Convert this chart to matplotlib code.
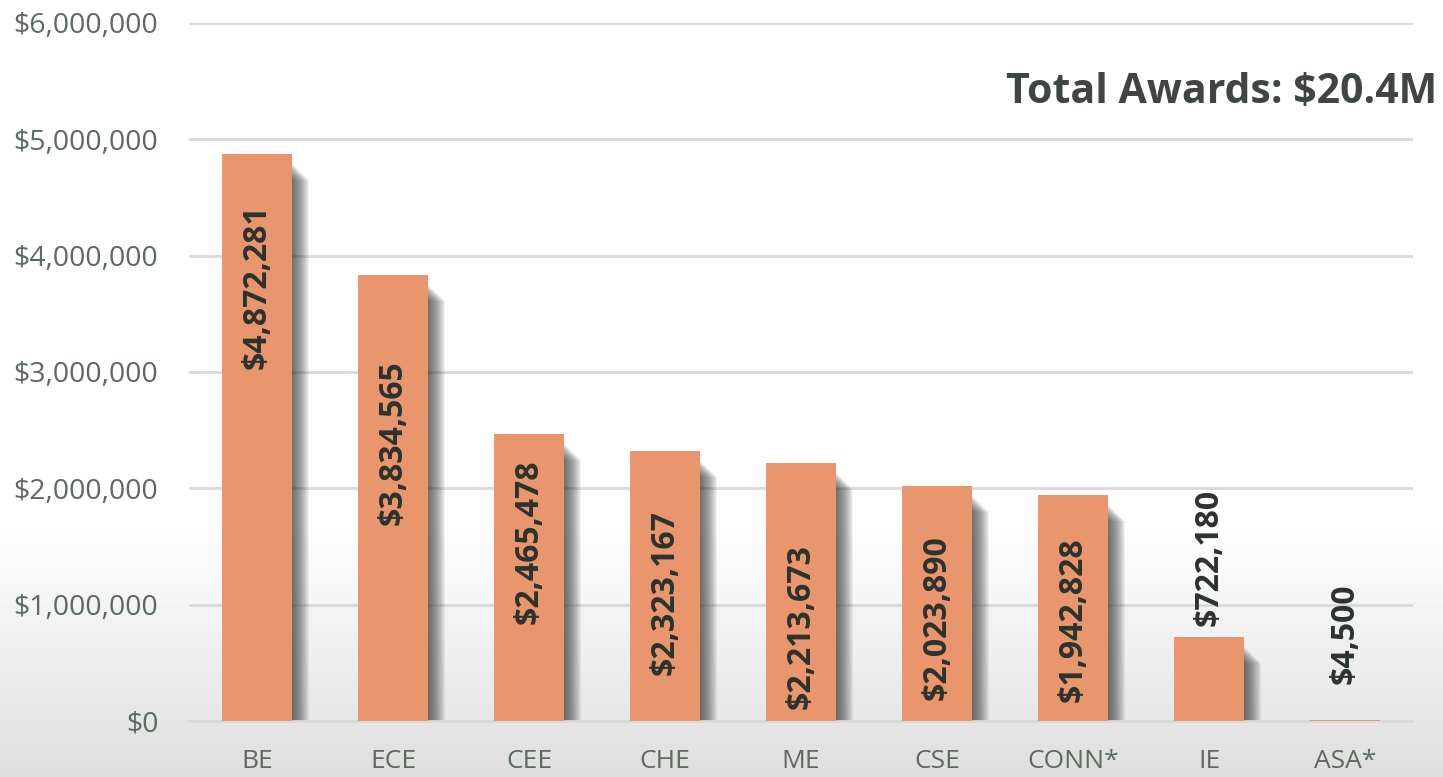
import matplotlib
matplotlib.use("Agg")
from matplotlib import pyplot as plt
import numpy as np

depts = ['BE', 'ECE', 'CEE', 'CHE', 'ME', 'CSE', 'CONN*', 'IE', 'ASA*']
awards = [4872281, 3834565, 2465478, 2323167, 2213673, 2023890, 1942828, 722180, 4500]
# where each rotated value label sits (centre, in dollars)
label_y = [3.73e6, 2.39e6, 1.54e6, 1.10e6, 0.81e6, 0.885e6, 0.868e6, 1.41e6, 0.75e6]
yticks = [0, 1e6, 2e6, 3e6, 4e6, 5e6, 6e6]

bar_clr = '#E9956E'
tick_clr = '#5B6B5C'
lbl_clr = '#2B332C'

plt.rcParams['font.family'] = ['Open Sans', 'DejaVu Sans']

fig = plt.figure(figsize=(14.43, 7.77), dpi=100)

# soft grey gradient behind everything
bg = fig.add_axes([0, 0, 1, 1], zorder=-10)
g = np.ones((777, 1))
rows = np.arange(777)
g[:, 0] = np.where(rows > 520, 1 - 0.13 * ((rows - 520) / 257.0), 1.0)
bg.imshow(g, aspect='auto', cmap='gray', vmin=0, vmax=1, extent=[0, 1, 0, 1], origin='upper')
bg.axis('off')

ax = fig.add_axes([189 / 1443, 56 / 777, 1224 / 1443, 698 / 777])
ax.set_facecolor('none')

x = np.arange(len(depts))
w = 0.51
px_x = 1 / 136.0
px_y = 1e6 / 116.3
vals = np.array(awards)

# soft drop shadow: stacked translucent bars, shrinking outwards
for s in np.linspace(-8, 8, 17):
    sw = w + 2 * s * px_x
    top = np.maximum(vals - (18 + s) * px_y, 0)
    ax.bar(x + 9 * px_x, top + 3 * px_y, width=sw, bottom=-3 * px_y,
           color='#383838', alpha=0.065, zorder=2, linewidth=0)

ax.bar(x, awards, width=w, color=bar_clr, zorder=3, linewidth=0)

for xi, v, ly in zip(x, awards, label_y):
    ax.text(xi, ly, '${:,}'.format(v), rotation=90, ha='center', va='center',
            fontsize=23, fontweight='bold', color=lbl_clr, zorder=4)

ax.set_xlim(-0.5, len(depts) - 0.5)
ax.set_ylim(0, 6e6)
ax.set_yticks(yticks)
ax.set_yticklabels(['${:,.0f}'.format(t) for t in yticks])
ax.set_xticks(x)
ax.set_xticklabels(depts)
ax.tick_params(axis='both', length=0, colors=tick_clr)
ax.tick_params(axis='y', pad=22, labelsize=20.5)
ax.tick_params(axis='x', pad=20, labelsize=19)
ax.grid(axis='y', color='#D9D9D9', linewidth=2, zorder=0)
ax.set_axisbelow(True)
for s in ['top', 'right', 'left']:
    ax.spines[s].set_visible(False)
ax.spines['bottom'].set_color('#D9D9D9')
ax.spines['bottom'].set_linewidth(2)

fig.text(1437 / 1443, 1 - 93 / 777, 'Total Awards: $20.4M', ha='right', va='center',
         fontsize=29.5, fontweight='bold', color='#3F4640')

fig.savefig('out.png', dpi=100)
